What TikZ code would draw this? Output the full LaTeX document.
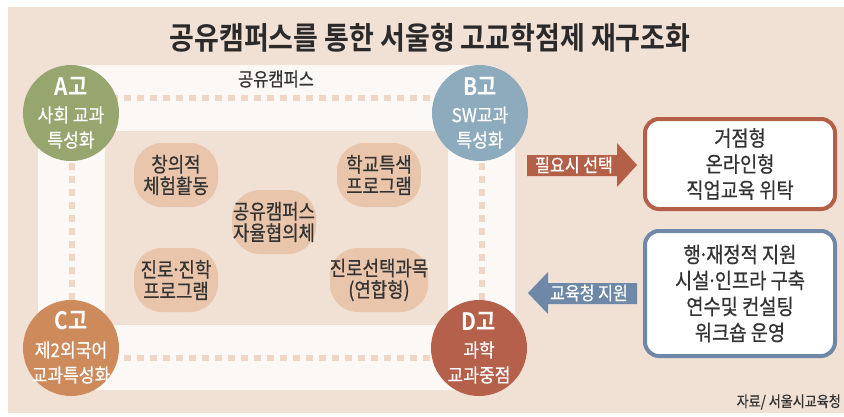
\documentclass[tikz,border=0pt]{standalone}
\usepackage{fontspec}
\usetikzlibrary{calc}
\newfontfamily\kr[FakeStretch=0.87,FakeBold=0.6]{Noto Sans CJK KR}
\newfontfamily\krc[FakeStretch=0.9,FakeBold=0.6]{Noto Sans CJK KR}
\newfontfamily\krb[FakeStretch=0.87]{Noto Sans CJK KR Bold}
\newcommand{\mdot}{\kern-0.12em·\kern-0.12em}
\definecolor{bgc}{HTML}{F1E0D4}
\definecolor{ringc}{HTML}{FCF8F5}
\definecolor{dashc}{HTML}{EFD6C5}
\definecolor{blobc}{HTML}{E8C5AB}
\definecolor{agreen}{HTML}{97A56F}
\definecolor{bblue}{HTML}{8EABBD}
\definecolor{corange}{HTML}{CD8A5B}
\definecolor{dred}{HTML}{B4604A}
\definecolor{boxred}{HTML}{B45F48}
\definecolor{boxblue}{HTML}{6F88A8}
\definecolor{txt}{HTML}{333333}
\definecolor{titlec}{HTML}{2A2A2A}
\tikzset{
  circ/.style={circle, minimum size=96pt, inner sep=0pt},
  big/.style={text=white, font=\krb\fontsize{24}{26}\selectfont, inner sep=0pt},
  small/.style={text=white, font=\krc\fontsize{19}{21}\selectfont, inner sep=0pt},
  blob/.style={fill=blobc, rounded corners=28pt, minimum width=84pt, minimum height=64pt, inner sep=0pt, text=txt, align=center, font=\kr\fontsize{20.5}{21.5}\selectfont},
  rbox/.style={fill=white, rounded corners=14pt, line width=4pt, minimum width=190pt, inner sep=0pt, text=txt, align=center, font=\kr\fontsize{21.5}{26}\selectfont},
  dashline/.style={draw=dashc, line width=6pt, dash pattern=on 7pt off 6pt},
  arrtext/.style={text=white, font=\kr\fontsize{18.5}{20}\selectfont, inner sep=0pt}
}
\begin{document}
\begin{tikzpicture}[x=1pt,y=-1pt]
\useasboundingbox (0,0) rectangle (844,416);
\fill[white] (0,0) rectangle (844,416);
\fill[bgc] (8,7) rectangle (844,413);
% title
\node[font=\krb\fontsize{31}{33}\selectfont, text=titlec, inner sep=0pt] (title) at (430,38) {공유캠퍼스를 통한 서울형 고교학점제 재구조화};
% ring
\fill[ringc, rounded corners=30pt] (38,65) rectangle (515,390);
\fill[bgc] (105,131) rectangle (448,325);
\node[text=txt, font=\kr\fontsize{19}{20}\selectfont, inner sep=0pt] (camp) at (276,79) {공유캠퍼스};
\coordinate (tl) at (71.5,98);
\coordinate (tr) at (481.5,98);
\coordinate (bl) at (71.5,357.5);
\coordinate (br) at (481.5,357.5);
\draw[dashline] (tl) -- (tr);
\draw[dashline] (tr) -- (br);
\draw[dashline] (bl) -- (br);
\draw[dashline] (tl) -- (bl);
% circles
\node[circ, fill=agreen] (A) at (71,113) {};
\node[circ, fill=bblue] (B) at (480,113) {};
\node[circ, fill=corange] (C) at (71,348) {};
\node[circ, fill=dred] (D) at (479,348) {};
\node[big] (A1) at ($(A)+(0,-27)$) {A고};
\node[small] (A2) at ($(A)+(0,2)$) {사회 교과};
\node[small] (A3) at ($(A)+(0,27)$) {특성화};
\node[big] (B1) at ($(B)+(0,-27)$) {B고};
\node[small] (B2) at ($(B)+(0,2)$) {SW교과};
\node[small] (B3) at ($(B)+(0,27)$) {특성화};
\node[big] (C1) at ($(C)+(0,-27)$) {C고};
\node[small] (C2) at ($(C)+(0,2)$) {제2외국어};
\node[small] (C3) at ($(C)+(0,27)$) {교과특성화};
\node[big] (D1) at ($(D)+(0,-27)$) {D고};
\node[small] (D2) at ($(D)+(0,2)$) {과학};
\node[small] (D3) at ($(D)+(0,27)$) {교과중점};
% blobs
\node[blob] (b1) at (176,175) {창의적\\체험활동};
\node[blob] (b2) at (379,175) {학교특색\\프로그램};
\node[blob] (b3) at (274,222) {공유캠퍼스\\자율협의체};
\node[blob] (b4) at (176,280) {진로\mdot 진학\\프로그램};
\node[blob] (b5) at (379,280) {진로선택과목\\(연합형)};
% arrows
\fill[boxred] (527,155) -- (617,155) -- (617,143) -- (637,165) -- (617,187) -- (617,176) -- (527,176) -- cycle;
\node[arrtext] (t1) at (574,165) {필요시 선택};
\fill[boxblue] (637,283) -- (548,283) -- (548,272) -- (528,293) -- (548,314) -- (548,304) -- (637,304) -- cycle;
\node[arrtext] (t2) at (589,293) {교육청 지원};
% boxes
\node[rbox, draw=boxred, minimum height=90pt] (R1) at (740,164) {거점형\\온라인형\\직업교육 위탁};
\node[rbox, draw=boxblue, minimum height=125pt] (R2) at (740,293.5) {행\mdot 재정적 지원\\시설\mdot 인프라 구축\\연수및 컨설팅\\워크숍 운영};
% source
\node[anchor=east, text=txt, font=\kr\fontsize{15}{16}\selectfont, inner sep=0pt] (src) at (841,402) {자료/ 서울시교육청};
\end{tikzpicture}
\end{document}
